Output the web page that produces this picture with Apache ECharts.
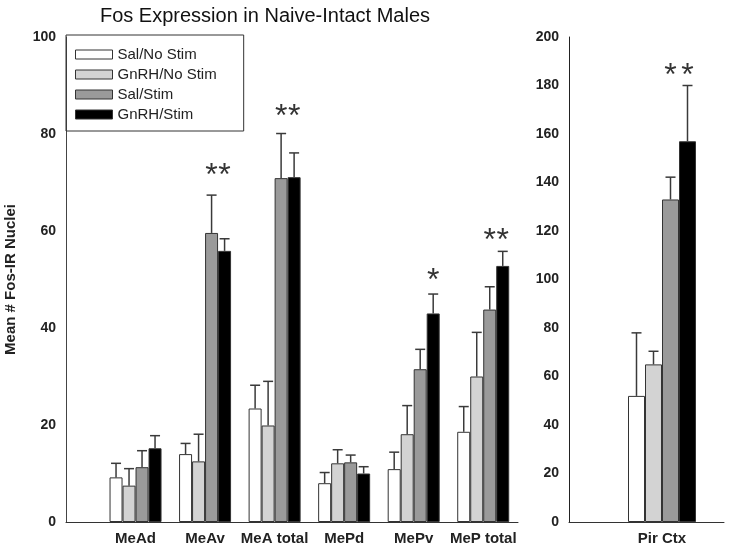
<!DOCTYPE html>
<html>
<head>
<meta charset="utf-8">
<script src="https://cdn.jsdelivr.net/npm/echarts@6/dist/echarts.min.js"></script>
<style>
html,body{margin:0;padding:0;background:#fff;}
#chart{width:729px;height:550px;}
</style>
</head>
<body>
<div id="chart"></div>
<script>
// ---- data ----
const categories = ['MeAd', 'MeAv', 'MeA total', 'MePd', 'MePv', 'MeP total'];
const groupNames = ['Sal/No Stim', 'GnRH/No Stim', 'Sal/Stim', 'GnRH/Stim'];
const salNoStim   = [9.2, 14.0, 23.4, 8.0, 10.9, 18.6];
const gnrhNoStim  = [7.5, 12.5, 19.9, 12.1, 18.1, 30.0];
const salStim     = [11.3, 59.6, 70.9, 12.3, 31.5, 43.8];
const gnrhStim    = [15.2, 55.9, 71.1, 10.0, 43.0, 52.8];
const salNoStimSem  = [2.9, 2.2, 4.8, 2.2, 3.5, 5.2];
const gnrhNoStimSem = [3.5, 5.6, 9.1, 2.8, 5.9, 9.1];
const salStimSem    = [3.4, 7.8, 9.2, 1.5, 4.1, 4.7];
const gnrhStimSem   = [2.6, 2.5, 5.0, 1.4, 4.0, 3.0];
const pirCategories = ['Pir Ctx'];
const pirMeans = [52, 65, 133, 157];
const pirSem   = [26, 5.4, 9.2, 23];
// significance stars: [category index, group index, height]
const leftStars  = [[1, 2, 72], [1, 3, 72], [2, 2, 84], [2, 3, 84], [4, 3, 50.3], [5, 2, 58.5], [5, 3, 58.5]];
const rightStars = [[0, 2, 185], [0, 3, 185]];
const leftTicks  = {min: 0, max: 100, step: 20};
const rightTicks = {min: 0, max: 200, step: 20};

// ---- styles ----
const FONT = 'Liberation Sans, Arial, sans-serif';
const colors = ['#ffffff', '#d3d3d3', '#9a9a9a', '#000000'];
const leftBarW = 13, rightBarW = 17;
const leftMeans = [salNoStim, gnrhNoStim, salStim, gnrhStim];
const leftSems = [salNoStimSem, gnrhNoStimSem, salStimSem, gnrhStimSem];

function errRender(barW, k) {
  return function (params, api) {
    const x = api.value(0), m = api.value(1), e = api.value(2);
    const p0 = api.coord([x, m]);
    const p1 = api.coord([x, m + e]);
    const cx = p0[0] + (k - 1.5) * barW;
    const st = {stroke: '#3a3a3a', lineWidth: 1.5};
    return {type: 'group', children: [
      {type: 'line', shape: {x1: cx, y1: p0[1], x2: cx, y2: p1[1]}, style: st},
      {type: 'line', shape: {x1: cx - 5, y1: p1[1], x2: cx + 5, y2: p1[1]}, style: st}
    ]};
  };
}
function starRender(barW) {
  return function (params, api) {
    const x = api.value(0), k = api.value(1), h = api.value(2);
    const p = api.coord([x, h]);
    return {type: 'text', style: {
      x: p[0] + (k - 1.5) * barW, y: p[1] + 3, text: '*',
      fill: '#333', font: '32px ' + FONT, align: 'center', verticalAlign: 'middle'
    }};
  };
}

const series = [];
groupNames.forEach(function (name, k) {
  series.push({
    name: name, type: 'bar', xAxisIndex: 0, yAxisIndex: 0,
    barWidth: leftBarW, barGap: '0%',
    itemStyle: {color: colors[k], borderColor: '#333', borderWidth: 1},
    data: leftMeans[k].map(function (v, i) { return [i, v]; })
  });
});
groupNames.forEach(function (name, k) {
  series.push({
    name: name, type: 'bar', xAxisIndex: 1, yAxisIndex: 1,
    barWidth: rightBarW, barGap: '0%',
    itemStyle: {color: colors[k], borderColor: '#333', borderWidth: 1},
    data: [[0, pirMeans[k]]]
  });
});
groupNames.forEach(function (name, k) {
  series.push({
    type: 'custom', xAxisIndex: 0, yAxisIndex: 0, z: 5,
    renderItem: errRender(leftBarW, k),
    data: leftMeans[k].map(function (v, i) { return [i, v, leftSems[k][i]]; })
  });
  series.push({
    type: 'custom', xAxisIndex: 1, yAxisIndex: 1, z: 5,
    renderItem: errRender(rightBarW, k),
    data: [[0, pirMeans[k], pirSem[k]]]
  });
});
series.push({type: 'custom', xAxisIndex: 0, yAxisIndex: 0, z: 6, renderItem: starRender(leftBarW), data: leftStars});
series.push({type: 'custom', xAxisIndex: 1, yAxisIndex: 1, z: 6, renderItem: starRender(rightBarW), data: rightStars});

const tickLabel = {fontFamily: FONT, fontSize: 14, fontWeight: 'bold', color: '#222', margin: 10};
const catLabel = {fontFamily: FONT, fontSize: 15, fontWeight: 'bold', color: '#222', margin: 9};

const option = {
  animation: false,
  backgroundColor: '#fff',
  title: {
    text: 'Fos Expression in Naive-Intact Males',
    left: 260, top: 1, textAlign: 'center',
    textStyle: {fontFamily: FONT, fontSize: 20, fontWeight: 'normal', color: '#111'}
  },
  legend: {
    orient: 'vertical', left: 66, top: 35,
    data: groupNames,
    icon: 'rect', itemWidth: 37, itemHeight: 9, itemGap: 3,
    padding: [11, 27, 8, 9],
    borderColor: '#333', borderWidth: 1,
    itemStyle: {borderColor: '#333', borderWidth: 1},
    textStyle: {fontFamily: FONT, fontSize: 15, color: '#222', lineHeight: 17}
  },
  grid: [
    {left: 66, right: 211, top: 37, bottom: 28, containLabel: false, outerBoundsMode: 'none'},
    {left: 569, right: 5, top: 37, bottom: 28, containLabel: false, outerBoundsMode: 'none'}
  ],
  xAxis: [
    {
      type: 'value', gridIndex: 0, min: -1, max: 5.5, interval: 1,
      splitLine: {show: false}, axisTick: {show: false},
      axisLine: {show: true, onZero: false, lineStyle: {color: '#333', width: 1}},
      axisLabel: Object.assign({}, catLabel, {
        showMaxLabel: false,
        formatter: function (v) { return (Number.isInteger(v) && v >= 0 && v < categories.length) ? categories[v] : ''; }
      })
    },
    {
      type: 'value', gridIndex: 1, min: -1.5, max: 1, interval: 0.5,
      splitLine: {show: false}, axisTick: {show: false},
      axisLine: {show: true, onZero: false, lineStyle: {color: '#333', width: 1}},
      axisLabel: Object.assign({}, catLabel, {
        formatter: function (v) { return v === 0 ? pirCategories[0] : ''; }
      })
    }
  ],
  yAxis: [
    {
      type: 'value', gridIndex: 0, min: leftTicks.min, max: leftTicks.max, interval: leftTicks.step,
      name: 'Mean # Fos-IR Nuclei', nameLocation: 'middle', nameRotate: 90, nameGap: 48,
      nameTextStyle: {fontFamily: FONT, fontSize: 15, fontWeight: 'bold', color: '#222'},
      splitLine: {show: false}, axisTick: {show: false},
      axisLine: {show: true, onZero: false, lineStyle: {color: '#444', width: 1}},
      axisLabel: tickLabel
    },
    {
      type: 'value', gridIndex: 1, min: rightTicks.min, max: rightTicks.max, interval: rightTicks.step,
      splitLine: {show: false}, axisTick: {show: false},
      axisLine: {show: true, onZero: false, lineStyle: {color: '#222', width: 1}},
      axisLabel: tickLabel
    }
  ],
  series: series
};

const chart = echarts.init(document.getElementById('chart'), null, {renderer: 'canvas'});
chart.setOption(option);
</script>
</body>
</html>
